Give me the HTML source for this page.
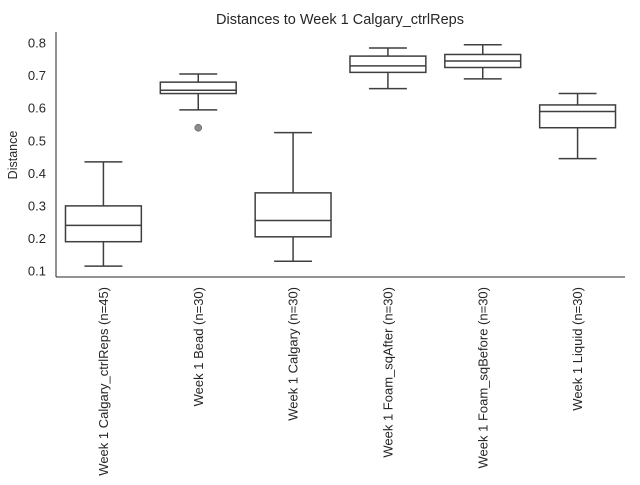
<!DOCTYPE html>
<html><head><meta charset="utf-8"><style>
body{margin:0;background:#fff;font-family:"Liberation Sans","DejaVu Sans",sans-serif;}
svg text{font-family:"Liberation Sans","DejaVu Sans",sans-serif;fill:#262626;}
</style></head><body>
<svg id="chart" width="640" height="480" xmlns="http://www.w3.org/2000/svg">
<text x="340" y="24" font-size="14.5" text-anchor="middle">Distances to Week 1 Calgary_ctrlReps</text>
<text transform="translate(17,155) rotate(-90)" font-size="12.5" text-anchor="middle">Distance</text>
<g id="plot"></g>
</svg>
<script>
const categories=["Week 1 Calgary_ctrlReps (n=45)","Week 1 Bead (n=30)","Week 1 Calgary (n=30)","Week 1 Foam_sqAfter (n=30)","Week 1 Foam_sqBefore (n=30)","Week 1 Liquid (n=30)"];
const whiskerLow=[0.115,0.595,0.13,0.66,0.69,0.445];
const q1=[0.19,0.645,0.205,0.71,0.725,0.54];
const median=[0.24,0.655,0.255,0.73,0.745,0.59];
const q3=[0.30,0.68,0.34,0.76,0.765,0.61];
const whiskerHigh=[0.435,0.705,0.525,0.785,0.795,0.645];
const outliers=[[],[0.54],[],[],[],[]];
const yTicks=[0.1,0.2,0.3,0.4,0.5,0.6,0.7,0.8];

const L=56,R=625,T=32,B=277,yMin=0.0816,yMax=0.834;
const y=v=>B-(v-yMin)/(yMax-yMin)*(B-T);
const band=(R-L)/categories.length;
const x=i=>L+band*(i+0.5);
const g=document.getElementById('plot');
const NS="http://www.w3.org/2000/svg";
function mk(tag,attrs,parent){const e=document.createElementNS(NS,tag);for(const k in attrs)e.setAttribute(k,attrs[k]);(parent||g).appendChild(e);return e;}
const col="#3f3f3f";
let e;
e=mk('line',{x1:L,y1:T,x2:L,y2:B,stroke:'#262626','stroke-width':1});


e=mk('line',{x1:L,y1:B,x2:R,y2:B,stroke:'#262626','stroke-width':1});


yTicks.forEach(t=>{
  e=mk('text',{x:L-10,y:y(t)+4.5,'font-size':13,'text-anchor':'end'});
  e.textContent=t.toFixed(1);
  
  
});
const bw=band*0.8;
categories.forEach((c,i)=>{
  const cx=x(i);
  const grp=mk('g',{});
  
  
  mk('line',{x1:cx,y1:y(q1[i]),x2:cx,y2:y(whiskerLow[i]),stroke:col,'stroke-width':1.5},grp);
  mk('line',{x1:cx,y1:y(q3[i]),x2:cx,y2:y(whiskerHigh[i]),stroke:col,'stroke-width':1.5},grp);
  mk('line',{x1:cx-bw/4,y1:y(whiskerLow[i]),x2:cx+bw/4,y2:y(whiskerLow[i]),stroke:col,'stroke-width':1.5},grp);
  mk('line',{x1:cx-bw/4,y1:y(whiskerHigh[i]),x2:cx+bw/4,y2:y(whiskerHigh[i]),stroke:col,'stroke-width':1.5},grp);
  mk('rect',{x:cx-bw/2,y:y(q3[i]),width:bw,height:y(q1[i])-y(q3[i]),fill:'#fff',stroke:col,'stroke-width':1.5},grp);
  mk('line',{x1:cx-bw/2,y1:y(median[i]),x2:cx+bw/2,y2:y(median[i]),stroke:col,'stroke-width':1.5},grp);
  outliers[i].forEach(o=>{
    const p=mk('circle',{cx:cx,cy:y(o),r:3.5,fill:'#8c8c8c',stroke:col,'stroke-width':0.5},grp);
    
    
  });
  const t=mk('text',{transform:`translate(${cx+4.5},${B+10}) rotate(-90)`,'font-size':13,'text-anchor':'end'});
  t.textContent=c;
  
  
});
</script>
</body></html>
